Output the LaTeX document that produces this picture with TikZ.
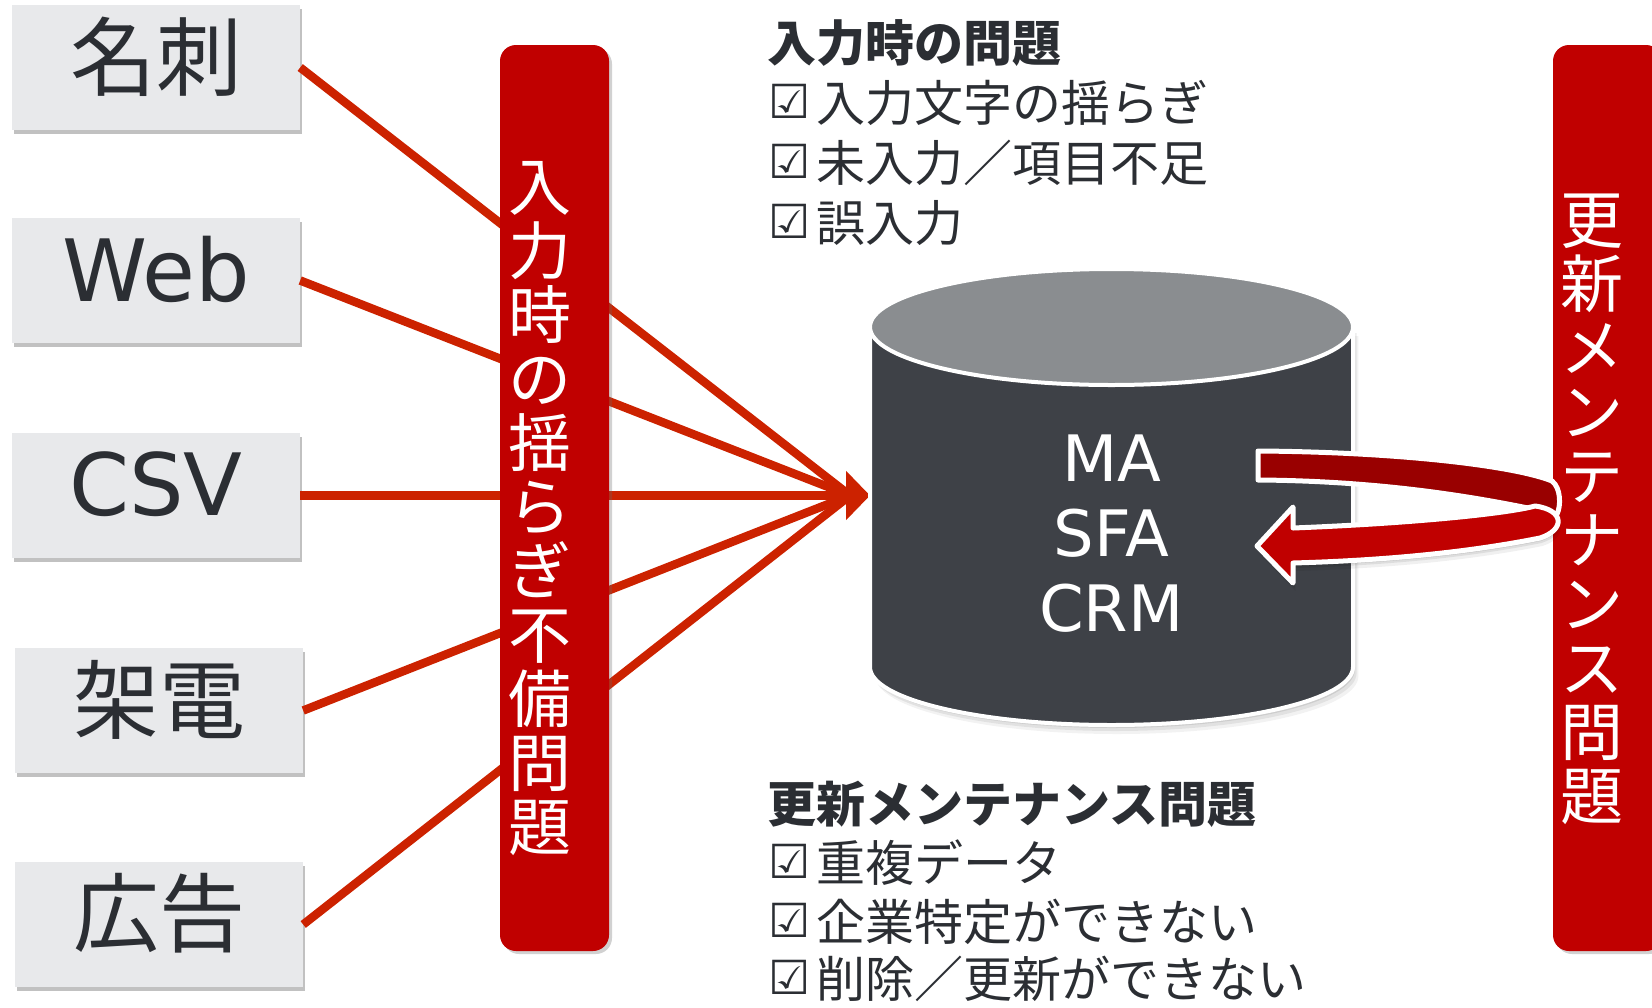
\documentclass[tikz,border=0pt]{standalone}
\usepackage{fontspec}
\usetikzlibrary{arrows.meta,shadows,calc}
\newfontfamily\jp{Noto Sans CJK JP}
\newfontfamily\lat{DejaVu Sans}
\newcommand\chkbox{\makebox[1em][l]{\raisebox{0.06em}{\lat\fontsize{47}{47}\selectfont\kern0.02em ☑}}}
\definecolor{boxfill}{HTML}{E8E9EB}
\definecolor{ink}{HTML}{2B2E33}
\definecolor{barred}{HTML}{C00000}
\definecolor{linered}{RGB}{204,34,0}
\definecolor{cyltop}{HTML}{8A8D90}
\definecolor{cylbody}{HTML}{3E4147}
\definecolor{arrdark}{HTML}{990000}
\begin{document}
\begin{tikzpicture}[x=1pt,y=-1pt,
  srcbox/.style={fill=boxfill, minimum width=288pt, minimum height=125pt, inner sep=0pt,
    drop shadow={shadow xshift=2pt, shadow yshift=-4pt, opacity=0.35, fill=black!70}},
  srcjp/.style={text=ink, font=\jp\fontsize{86}{90}\selectfont, inner sep=0pt},
  srclat/.style={text=ink, font=\lat\fontsize{86}{90}\selectfont, inner sep=0pt},
  conn/.style={draw=linered, line width=8.5pt},
  redbar/.style={fill=barred, rounded corners=16pt, minimum width=109pt, minimum height=906pt, inner sep=0pt,
    drop shadow={shadow xshift=3pt, shadow yshift=-3pt, opacity=0.3, fill=black!60}},
  vtext/.style={text=white, font=\jp\fontsize{63}{64}\selectfont, align=center, inner sep=0pt},
  dbtext/.style={text=white, font=\lat\fontsize{64}{75}\selectfont, align=center, inner sep=0pt},
  hd/.style={anchor=west, text=ink, font=\jp\bfseries\fontsize{49}{60}\selectfont, inner sep=0pt},
  item/.style={anchor=west, text=ink, font=\jp\fontsize{49}{60}\selectfont, inner sep=0pt},
  ribbon/.style={draw=white, line width=5pt, line join=round}
]
\useasboundingbox (0,0) rectangle (1652,1007);
\clip (0,0) rectangle (1652,1007);

% source boxes
\node[srcbox] (b1) at (156,67.5) {};
\node[srcbox] (b2) at (156,280.5) {};
\node[srcbox] (b3) at (156,495.5) {};
\node[srcbox] (b4) at (159,710.5) {};
\node[srcbox] (b5) at (159,924.5) {};
\node[srcjp]  (l1) at ([yshift=11pt]b1.center) {名刺};
\node[srclat] (l2) at ([yshift=11pt]b2.center) {Web};
\node[srclat] (l3) at ([yshift=11pt]b3.center) {CSV};
\node[srcjp]  (l4) at ([yshift=11pt]b4.center) {架電};
\node[srcjp]  (l5) at ([yshift=11pt]b5.center) {広告};

% connectors
\coordinate (tip) at (870,495.5);
\coordinate (conv) at (850,495.5);
\foreach \b in {b1,b2,b4,b5} \draw[conn] (\b.east) -- (conv);
\draw[conn, -{Triangle[length=24pt,width=48pt]}] (b3.east) -- (tip);

% left red bar
\node[redbar] (lbar) at (554.5,498) {};
\node[vtext] (ltext) at (540,508.5) {入\\力\\時\\の\\揺\\ら\\ぎ\\不\\備\\問\\題};

% right red bar
\node[redbar] (rbar) at (1607.5,498) {};
\node[vtext] (rtext) at (1592,509.5) {更\\新\\メ\\ン\\テ\\ナ\\ン\\ス\\問\\題};

% cylinder
\foreach \s/\o in {9/0.05,6/0.07,3/0.09}
  \fill[black, opacity=\o, shift={(\s*0.6,\s)}] (870,327) -- (870,667)
    arc[start angle=180, end angle=360, x radius=241.5pt, y radius=58pt] -- (1353,327) -- cycle;
\path[fill=cylbody, draw=white, line width=4pt] (870,327) -- (870,667)
    arc[start angle=180, end angle=360, x radius=241.5pt, y radius=58pt] -- (1353,327) -- cycle;
\draw[fill=cyltop, draw=white, line width=4pt] (1111.5,327) ellipse [x radius=241.5pt, y radius=58pt];
\node[dbtext] (db) at (1111.5,534) {MA\\SFA\\CRM};

% U-turn arrow
\path[ribbon, fill=arrdark] (1258,451) .. controls (1400,452) and (1515,466) .. (1552,481)
  .. controls (1561,488) and (1561,506) .. (1557,514)
  .. controls (1500,502) and (1400,481) .. (1258,480) -- cycle;
\foreach \s/\o in {8/0.06,5/0.08,3/0.1}
  \fill[black, opacity=\o, shift={(\s*0.3,\s)}] (1293,528) .. controls (1420,523) and (1510,513) .. (1535,506)
  .. controls (1565,510) and (1565,530) .. (1540,538)
  .. controls (1480,550) and (1400,560) .. (1293,563)
  -- (1293,583) -- (1257,546) -- (1293,507) -- cycle;
\path[ribbon, fill=barred] (1293,528) .. controls (1420,523) and (1510,513) .. (1535,506)
  .. controls (1565,510) and (1565,530) .. (1540,538)
  .. controls (1480,550) and (1400,560) .. (1293,563)
  -- (1293,583) -- (1257,546) -- (1293,507) -- cycle;

% text blocks
\node[hd]   (h1)  at (767,43)  {入力時の問題};
\node[item] (t11) at (767,103) {\chkbox 入力文字の揺らぎ};
\node[item] (t12) at (767,163) {\chkbox 未入力／項目不足};
\node[item] (t13) at (767,223) {\chkbox 誤入力};
\node[hd]   (h2)  at (767,804) {更新メンテナンス問題};
\node[item] (t21) at (767,863) {\chkbox 重複データ};
\node[item] (t22) at (767,922) {\chkbox 企業特定ができない};
\node[item] (t23) at (767,979) {\chkbox 削除／更新ができない};
\end{tikzpicture}
\end{document}
